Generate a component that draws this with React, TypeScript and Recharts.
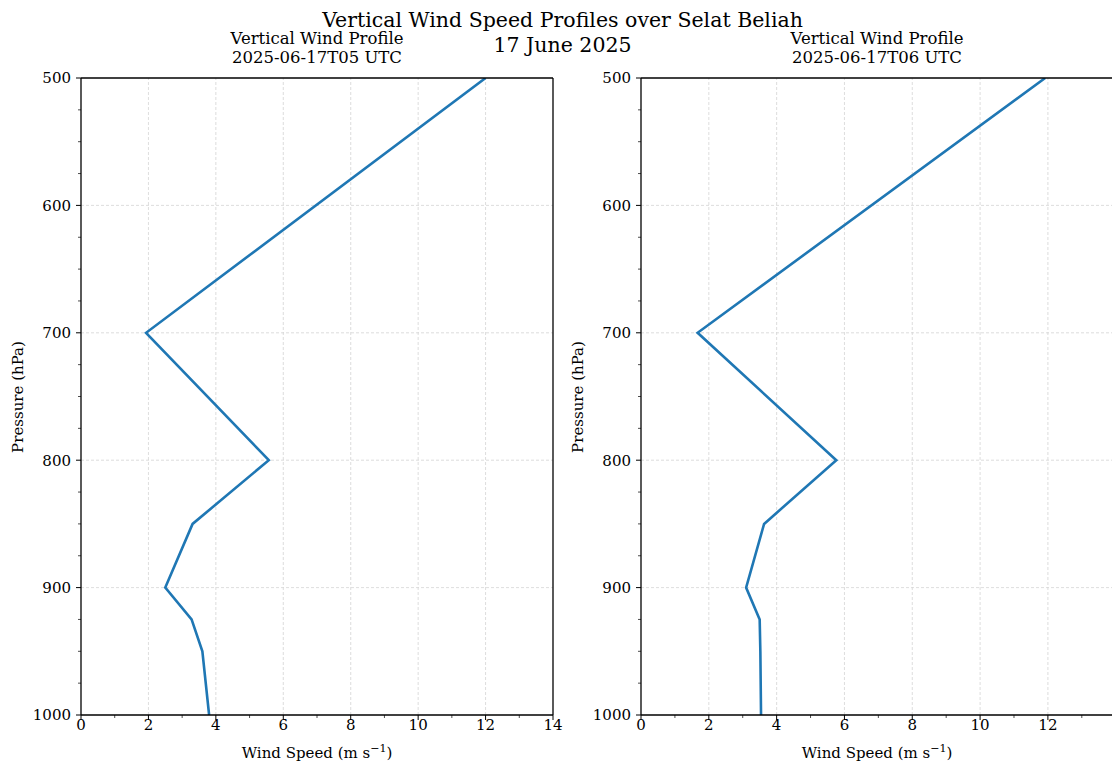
import { LineChart, Line, XAxis, YAxis, ReferenceLine } from "recharts";

// pressure levels (hPa) and wind speed (m/s)
const pressureLevels = [500, 700, 800, 850, 900, 925, 950, 1000];
const speedT05 = [12.0, 1.93, 5.57, 3.31, 2.5, 3.28, 3.6, 3.8];
const speedT06 = [11.92, 1.67, 5.76, 3.63, 3.1, 3.5, 3.52, 3.54];

const pressureTicks = [
  500, 525, 550, 575, 600, 625, 650, 675, 700, 725, 750, 775, 800, 825, 850, 875, 900, 925, 950, 975, 1000,
];
const pressureGrid = [600, 700, 800, 900];
const speedTicksT05 = [0, 1, 2, 3, 4, 5, 6, 7, 8, 9, 10, 11, 12, 13, 14];
const speedTicksT06 = [0, 1, 2, 3, 4, 5, 6, 7, 8, 9, 10, 11, 12, 13];
const speedGrid = [2, 4, 6, 8, 10, 12];

const FONT = '"DejaVu Serif", serif';
const BLUE = "#1f77b4";
const GRID = "#d4d4d4";

function SpeedTick(props: any) {
  const { x, y, payload } = props;
  const v = payload.value;
  const major = v % 2 === 0;
  return (
    <g>
      <line x1={x} x2={x} y1={y} y2={y + (major ? 5 : 3)} stroke="#000" strokeWidth={major ? 1 : 0.7} />
      {major && (
        <text x={x} y={y + 15} textAnchor="middle" fontFamily={FONT} fontSize={15} fill="#000">
          {v}
        </text>
      )}
    </g>
  );
}

function PressureTick(props: any) {
  const { x, y, payload } = props;
  const v = payload.value;
  const major = v % 100 === 0;
  return (
    <g>
      <line x1={x} x2={x - (major ? 5 : 3)} y1={y} y2={y} stroke="#000" strokeWidth={major ? 1 : 0.7} />
      {major && (
        <text x={x - 10} y={y} dy="0.36em" textAnchor="end" fontFamily={FONT} fontSize={15} fill="#000">
          {v}
        </text>
      )}
    </g>
  );
}

function ProfilePanel({ left, speeds, xMax, xTicks, stamp }: { left: number; speeds: number[]; xMax: number; xTicks: number[]; stamp: string }) {
  const data = pressureLevels.map((p, i) => ({ p, speed: speeds[i] }));
  const center = left + 81 + 236;
  return (
    <>
      <div style={{ position: "absolute", left, top: 0 }}>
        <LineChart width={580} height={763} layout="vertical" data={data} margin={{ top: 78, right: 27, bottom: 0, left: 0 }}>
          <XAxis
            type="number"
            domain={[0, xMax]}
            ticks={xTicks}
            interval={0}
            tick={<SpeedTick />}
            tickLine={false}
            tickSize={0}
            tickMargin={0}
            height={48}
            axisLine={{ stroke: "#000", strokeWidth: 1.3 }}
            allowDataOverflow
          />
          <YAxis
            type="number"
            dataKey="p"
            domain={[500, 1000]}
            ticks={pressureTicks}
            interval={0}
            tick={<PressureTick />}
            tickLine={false}
            tickSize={0}
            tickMargin={0}
            width={81}
            axisLine={{ stroke: "#000", strokeWidth: 1.3 }}
            allowDataOverflow
          />
          {speedGrid.map((v) => (
            <ReferenceLine key={"x" + v} x={v} stroke={GRID} strokeDasharray="3 2" strokeWidth={0.8} />
          ))}
          {pressureGrid.map((v) => (
            <ReferenceLine key={"y" + v} y={v} stroke={GRID} strokeDasharray="3 2" strokeWidth={0.8} />
          ))}
          <Line
            dataKey="speed"
            type="linear"
            stroke={BLUE}
            strokeWidth={2.6}
            dot={false}
            activeDot={false}
            isAnimationActive={false}
          />
          {/* top and right spines */}
          <ReferenceLine y={500} stroke="#000" strokeWidth={1.3} />
          <ReferenceLine x={xMax} stroke="#000" strokeWidth={1.3} />
        </LineChart>
      </div>
      <div style={{ position: "absolute", left: center - 150, width: 300, top: 30, textAlign: "center", fontFamily: FONT, fontSize: 16.5, lineHeight: "18.5px" }}>
        Vertical Wind Profile
        <br />
        {stamp}
      </div>
      <div style={{ position: "absolute", left: center - 150, width: 300, top: 743, textAlign: "center", fontFamily: FONT, fontSize: 15, lineHeight: "20px" }}>
        Wind Speed (m s<sup style={{ fontSize: 11, lineHeight: 0 }}>−1</sup>)
      </div>
      <div
        style={{
          position: "absolute",
          left: left + 18 - 100,
          width: 200,
          top: 397 - 10,
          textAlign: "center",
          fontFamily: FONT,
          fontSize: 15,
          lineHeight: "20px",
          transform: "rotate(-90deg)",
        }}
      >
        Pressure (hPa)
      </div>
    </>
  );
}

export default function App() {
  return (
    <div style={{ position: "absolute", left: 0, top: 0, width: 1112, height: 763, overflow: "hidden", background: "#fff", color: "#000" }}>
      <div style={{ position: "absolute", left: 0, width: 1125, top: 8.4, textAlign: "center", fontFamily: FONT, fontSize: 20.5, lineHeight: "25px" }}>
        Vertical Wind Speed Profiles over Selat Beliah
        <br />
        17 June 2025
      </div>
      <ProfilePanel left={0} speeds={speedT05} xMax={14} xTicks={speedTicksT05} stamp="2025-06-17T05 UTC" />
      <ProfilePanel left={560} speeds={speedT06} xMax={13.92} xTicks={speedTicksT06} stamp="2025-06-17T06 UTC" />
    </div>
  );
}
